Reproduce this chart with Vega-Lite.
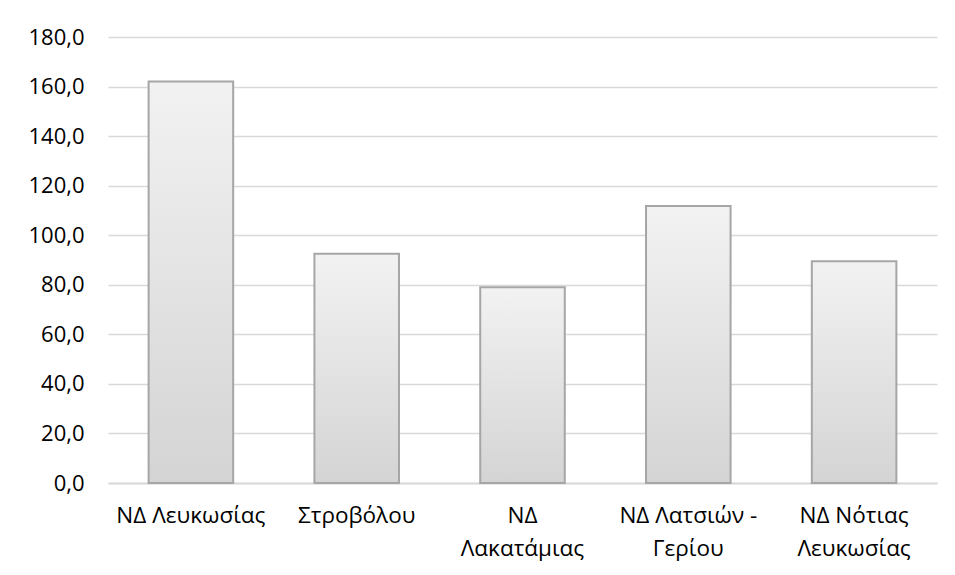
{
  "$schema": "https://vega.github.io/schema/vega-lite/v6.json",
  "autosize": "none",
  "width": 829,
  "height": 446,
  "padding": {"left": 108, "top": 37, "right": 18, "bottom": 92},
  "background": "white",
  "config": {
    "view": {"stroke": null},
    "font": "Open Sans"
  },
  "data": {
    "values": [
      {"district": "ΝΔ Λευκωσίας", "value": 162.0},
      {"district": "Στροβόλου", "value": 92.5},
      {"district": "ΝΔ Λακατάμιας", "value": 79.0},
      {"district": "ΝΔ Λατσιών - Γερίου", "value": 111.8},
      {"district": "ΝΔ Νότιας Λευκωσίας", "value": 89.5}
    ]
  },
  "mark": {
    "type": "bar",
    "stroke": "#a6a6a6",
    "strokeWidth": 2,
    "fill": {
      "x1": 0, "y1": 0, "x2": 0, "y2": 1,
      "gradient": "linear",
      "stops": [
        {"offset": 0, "color": "#f2f2f2"},
        {"offset": 1, "color": "#d4d4d4"}
      ]
    }
  },
  "encoding": {
    "x": {
      "field": "district",
      "type": "nominal",
      "sort": null,
      "scale": {"paddingInner": 0.49, "paddingOuter": 0.245},
      "axis": {
        "title": null,
        "labelAngle": 0,
        "labelFontSize": 22.5,
        "labelColor": "#000000",
        "labelPadding": 21,
        "labelLineHeight": 33,
        "labelBaseline": "top",
        "ticks": false,
        "domainColor": "#d9d9d9",
        "domainWidth": 2,
        "labelExpr": "datum.value == 'ΝΔ Λακατάμιας' ? ['ΝΔ', 'Λακατάμιας'] : datum.value == 'ΝΔ Λατσιών - Γερίου' ? ['ΝΔ Λατσιών -', 'Γερίου'] : datum.value == 'ΝΔ Νότιας Λευκωσίας' ? ['ΝΔ Νότιας', 'Λευκωσίας'] : datum.value"
      }
    },
    "y": {
      "field": "value",
      "type": "quantitative",
      "scale": {"domain": [0, 180]},
      "axis": {
        "title": null,
        "values": [0, 20, 40, 60, 80, 100, 120, 140, 160, 180],
        "labelExpr": "replace(format(datum.value, '.1f'), '.', ',')",
        "labelFontSize": 22,
        "labelColor": "#000000",
        "labelPadding": 24,
        "ticks": false,
        "domain": false,
        "grid": true,
        "gridColor": "#d9d9d9",
        "gridWidth": 1.5
      }
    }
  }
}
